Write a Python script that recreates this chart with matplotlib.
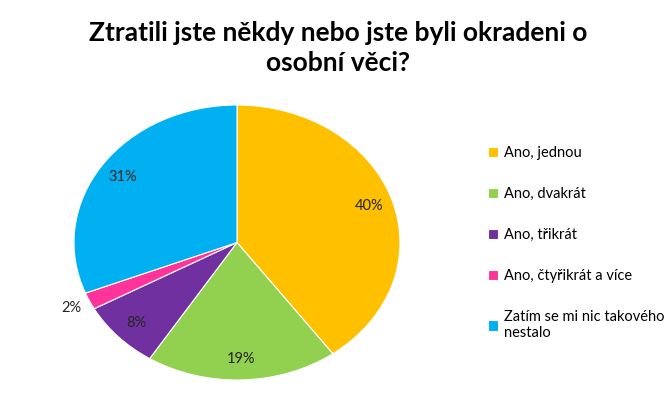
import matplotlib
matplotlib.use("Agg")
import matplotlib.pyplot as plt
import numpy as np

categories = [
    "Ano, jednou",
    "Ano, dvakrát",
    "Ano, třikrát",
    "Ano, čtyřikrát a více",
    "Zatím se mi nic takového\nnestalo",
]
shares = [40, 19, 8, 2, 31]
colors = ["#FFC000", "#92D050", "#7030A0", "#FF3399", "#00B0F0"]
title = "Ztratili jste někdy nebo jste byli okradeni o\nosobní věci?"

plt.rcParams["font.family"] = ["Lato", "DejaVu Sans"]

fig = plt.figure(figsize=(6.7, 3.97), dpi=100)
ax = fig.add_axes([74 / 670, 17 / 397, 326 / 670, 275 / 397])

wedges, _ = ax.pie(
    shares,
    colors=colors,
    startangle=90,
    counterclock=False,
    radius=1.0,
    wedgeprops={"edgecolor": "white", "linewidth": 0.8},
)
ax.set_aspect("auto")
ax.set_xlim(-1, 1)
ax.set_ylim(-1, 1)

for wedge, share in zip(wedges, shares):
    mid = np.deg2rad((wedge.theta1 + wedge.theta2) / 2)
    dist = 0.85 if share > 5 else 1.12
    ax.text(
        dist * np.cos(mid), dist * np.sin(mid), f"{share}%",
        ha="center", va="center", fontsize=10.5, color="#262626",
        clip_on=False,
    )

fig.text(0.505, 0.88, title, ha="center", va="center", fontsize=19,
         fontweight="bold", linespacing=1.3)

fig.legend(
    wedges, categories,
    loc="upper left", bbox_to_anchor=(475 / 670, 1 - 133 / 397),
    frameon=False, fontsize=10.5, labelspacing=1.85,
    handlelength=0.7, handleheight=0.7, handletextpad=0.4,
)

fig.savefig("out.png", dpi=100)
